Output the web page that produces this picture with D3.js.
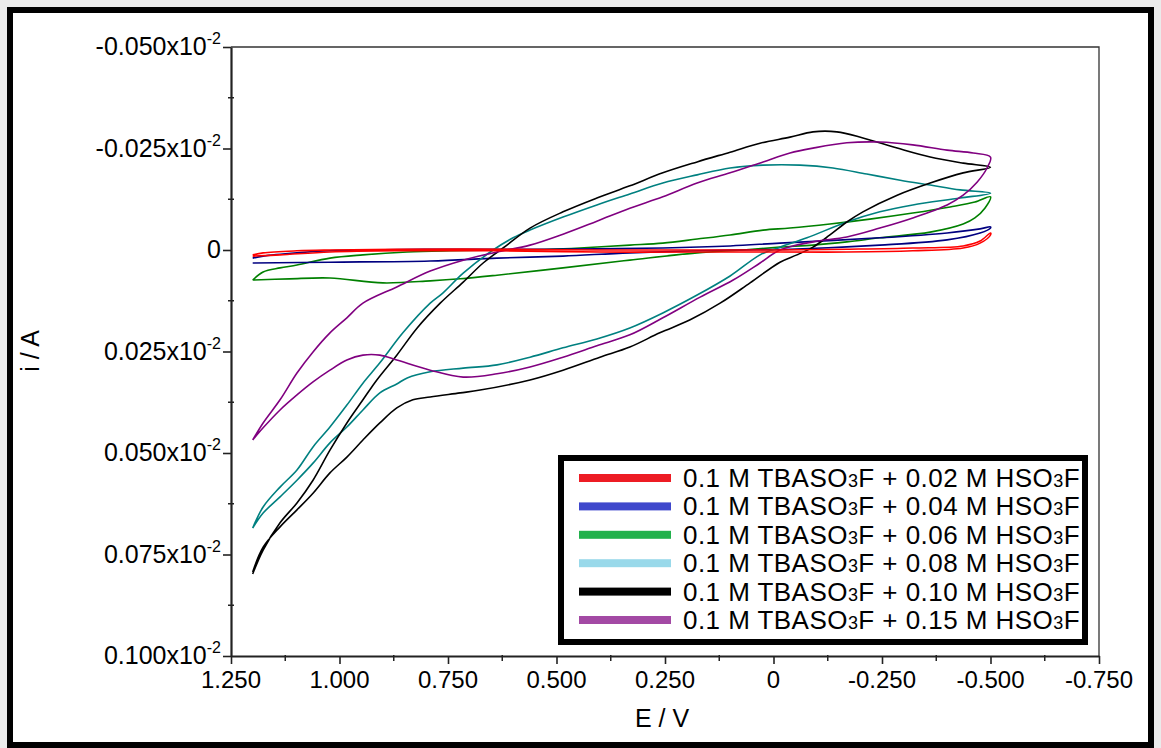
<!DOCTYPE html>
<html>
<head>
<meta charset="utf-8">
<script src="https://cdnjs.cloudflare.com/ajax/libs/d3/7.8.5/d3.min.js"></script>
<style>
  body { margin: 0; background: #ebebeb; }
  svg { display: block; font-family: "Liberation Sans", Arial, sans-serif; }
</style>
</head>
<body>
<script>
// tick values and labels (current axis is in units of 10^-2 A)
var xTicks = [1.25, 1.0, 0.75, 0.5, 0.25, 0, -0.25, -0.5, -0.75];
var xTickLabels = ["1.250", "1.000", "0.750", "0.500", "0.250", "0", "-0.250", "-0.500", "-0.750"];
var yTicks = [-0.05, -0.025, 0, 0.025, 0.05, 0.075, 0.1];
var yTickLabels = ["-0.050", "-0.025", "0", "0.025", "0.050", "0.075", "0.100"];

var seriesNames = [
  "0.1 M TBASO3F + 0.02 M HSO3F",
  "0.1 M TBASO3F + 0.04 M HSO3F",
  "0.1 M TBASO3F + 0.06 M HSO3F",
  "0.1 M TBASO3F + 0.08 M HSO3F",
  "0.1 M TBASO3F + 0.10 M HSO3F",
  "0.1 M TBASO3F + 0.15 M HSO3F"
];
var lineColors = ["#ff0000", "#000080", "#008000", "#008080", "#000000", "#800080"];
var swatchColors = ["#ed1c24", "#3f48cc", "#22b14c", "#99d9ea", "#000000", "#a349a4"];

// [E (V), i (x10^-2 A)] – each loop
var cv002 = [[1.200,0.0012],[1.176,0.0007],[1.098,0.0002],[1.022,0.0000],[0.868,-0.0002],[0.630,-0.0002],[0.400,0.0000],[0.169,0.0000],[-0.015,0.0000],[-0.169,-0.0002],[-0.321,-0.0005],[-0.437,-0.0010],[-0.476,-0.0022],[-0.500,-0.0042],
  [-0.500,-0.0037],[-0.476,-0.0017],[-0.437,-0.0005],[-0.321,0.0002],[-0.169,0.0005],[-0.015,0.0005],[0.169,0.0005],[0.400,0.0005],[0.630,0.0002],[0.868,0.0002],[1.022,0.0005],[1.137,0.0012],[1.200,0.0015]];

var cv004 = [[1.200,0.0020],[1.176,0.0015],[1.098,0.0007],[1.022,0.0002],[0.946,0.0000],[0.745,-0.0002],[0.515,-0.0002],[0.255,-0.0005],[0.100,-0.0010],[-0.015,-0.0017],[-0.245,-0.0030],[-0.400,-0.0042],[-0.476,-0.0052],[-0.500,-0.0057],
  [-0.500,-0.0054],[-0.476,-0.0042],[-0.400,-0.0025],[-0.245,-0.0012],[-0.038,-0.0002],[0.100,0.0000],[0.331,0.0007],[0.485,0.0015],[0.637,0.0020],[0.791,0.0027],[1.022,0.0030],[1.200,0.0032]];

var cv006 = [[1.200,0.0074],[1.176,0.0054],[1.137,0.0044],[1.098,0.0037],[1.022,0.0020],[0.946,0.0012],[0.844,0.0005],[0.745,0.0002],[0.630,0.0000],[0.515,-0.0002],[0.446,-0.0005],[0.331,-0.0012],[0.255,-0.0017],[0.176,-0.0027],[0.100,-0.0037],[0.024,-0.0049],[-0.038,-0.0054],[-0.130,-0.0064],[-0.222,-0.0076],[-0.321,-0.0091],[-0.407,-0.0106],[-0.464,-0.0118],[-0.500,-0.0131],
  [-0.487,-0.0103],[-0.464,-0.0079],[-0.437,-0.0064],[-0.361,-0.0044],[-0.245,-0.0030],[-0.169,-0.0020],[-0.091,-0.0012],[-0.015,-0.0007],[0.070,0.0000],[0.176,0.0007],[0.331,0.0025],[0.485,0.0044],[0.637,0.0062],[0.722,0.0071],[0.791,0.0076],[0.900,0.0081],[1.022,0.0069],[1.115,0.0071],[1.200,0.0074]];

var cv008 = [[1.200,0.0685],[1.176,0.0633],[1.137,0.0584],[1.098,0.0542],[1.061,0.0485],[1.022,0.0436],[0.983,0.0382],[0.946,0.0328],[0.907,0.0278],[0.854,0.0204],[0.791,0.0131],[0.762,0.0106],[0.715,0.0057],[0.646,0.0000],[0.600,-0.0030],[0.561,-0.0049],[0.485,-0.0081],[0.407,-0.0111],[0.331,-0.0138],[0.255,-0.0165],[0.176,-0.0185],[0.100,-0.0202],[0.024,-0.0209],[-0.061,-0.0209],[-0.137,-0.0202],[-0.215,-0.0187],[-0.292,-0.0172],[-0.361,-0.0160],[-0.430,-0.0148],[-0.500,-0.0140],
  [-0.430,-0.0128],[-0.321,-0.0111],[-0.245,-0.0094],[-0.169,-0.0069],[-0.077,-0.0030],[-0.015,-0.0007],[0.031,0.0012],[0.100,0.0064],[0.176,0.0111],[0.255,0.0155],[0.331,0.0192],[0.407,0.0219],[0.485,0.0241],[0.561,0.0264],[0.637,0.0283],[0.715,0.0291],[0.791,0.0300],[0.844,0.0315],[0.868,0.0330],[0.907,0.0352],[0.946,0.0394],[0.983,0.0436],[1.022,0.0475],[1.061,0.0525],[1.098,0.0567],[1.137,0.0608],[1.176,0.0648],[1.200,0.0685]];

var cv010 = [[1.200,0.0798],[1.176,0.0739],[1.137,0.0672],[1.098,0.0623],[1.061,0.0567],[1.022,0.0493],[0.983,0.0426],[0.946,0.0369],[0.914,0.0320],[0.868,0.0259],[0.821,0.0192],[0.768,0.0131],[0.715,0.0079],[0.669,0.0032],[0.623,-0.0005],[0.561,-0.0054],[0.485,-0.0094],[0.407,-0.0128],[0.331,-0.0158],[0.255,-0.0190],[0.176,-0.0217],[0.100,-0.0241],[0.031,-0.0263],[-0.038,-0.0278],[-0.091,-0.0291],[-0.146,-0.0291],[-0.206,-0.0276],[-0.285,-0.0251],[-0.361,-0.0229],[-0.437,-0.0214],[-0.500,-0.0204],
  [-0.437,-0.0190],[-0.361,-0.0165],[-0.285,-0.0135],[-0.206,-0.0094],[-0.169,-0.0069],[-0.130,-0.0037],[-0.091,-0.0007],[-0.054,0.0012],[-0.015,0.0030],[0.054,0.0081],[0.123,0.0131],[0.192,0.0172],[0.262,0.0204],[0.331,0.0239],[0.400,0.0264],[0.485,0.0296],[0.561,0.0320],[0.676,0.0345],[0.722,0.0352],[0.791,0.0362],[0.831,0.0369],[0.868,0.0389],[0.907,0.0426],[0.946,0.0468],[0.983,0.0510],[1.022,0.0549],[1.061,0.0599],[1.098,0.0640],[1.137,0.0682],[1.176,0.0732],[1.200,0.0793]];

var cv015 = [[1.200,0.0468],[1.176,0.0426],[1.137,0.0369],[1.098,0.0303],[1.061,0.0251],[1.022,0.0204],[0.983,0.0167],[0.946,0.0131],[0.868,0.0091],[0.791,0.0052],[0.715,0.0025],[0.637,0.0005],[0.561,-0.0012],[0.485,-0.0039],[0.407,-0.0071],[0.331,-0.0103],[0.255,-0.0131],[0.176,-0.0165],[0.100,-0.0190],[0.024,-0.0217],[-0.038,-0.0239],[-0.091,-0.0251],[-0.169,-0.0264],[-0.245,-0.0266],[-0.321,-0.0259],[-0.400,-0.0246],[-0.460,-0.0239],[-0.500,-0.0229],
  [-0.492,-0.0202],[-0.469,-0.0167],[-0.437,-0.0135],[-0.400,-0.0111],[-0.321,-0.0079],[-0.245,-0.0054],[-0.169,-0.0032],[-0.091,-0.0020],[-0.015,0.0000],[0.031,0.0032],[0.093,0.0074],[0.169,0.0116],[0.255,0.0167],[0.331,0.0209],[0.407,0.0236],[0.485,0.0264],[0.561,0.0288],[0.637,0.0305],[0.715,0.0313],[0.791,0.0296],[0.868,0.0271],[0.907,0.0259],[0.946,0.0259],[0.983,0.0271],[1.022,0.0296],[1.061,0.0325],[1.098,0.0357],[1.137,0.0394],[1.176,0.0438],[1.200,0.0468]];

var allSeries = [cv002, cv004, cv006, cv008, cv010, cv015];
var drawOrder = [2, 1, 3, 4, 5, 0];

var W = 1161, H = 748;
var svg = d3.select("body").append("svg").attr("width", W).attr("height", H);

// outer frame
svg.append("rect").attr("x", 10).attr("y", 10).attr("width", 1141).attr("height", 735)
  .attr("fill", "#fff").attr("stroke", "#000").attr("stroke-width", 6);

var x = d3.scaleLinear().domain([1.25, -0.75]).range([231, 1099]);
var y = d3.scaleLinear().domain([-0.05, 0.1]).range([47, 656]);

// top / right box lines
svg.append("path")
  .attr("d", "M" + x(1.25) + "," + y(-0.05) + "H" + x(-0.75) + "V" + y(0.1))
  .attr("fill", "none").attr("stroke", "#333").attr("stroke-width", 1.3);

// minor ticks
var xMinor = d3.range(8).map(function(k) { return 1.125 - k * 0.25; });
var yMinor = d3.range(6).map(function(k) { return -0.0375 + k * 0.025; });

svg.append("g").selectAll("line").data(xMinor).enter().append("line")
  .attr("x1", function(d) { return x(d); }).attr("x2", function(d) { return x(d); })
  .attr("y1", y(0.1) - 1).attr("y2", y(0.1) + 5)
  .attr("stroke", "#222").attr("stroke-width", 1.5);
svg.append("g").selectAll("line").data(yMinor).enter().append("line")
  .attr("y1", function(d) { return y(d); }).attr("y2", function(d) { return y(d); })
  .attr("x1", x(1.25) - 3).attr("x2", x(1.25) + 3)
  .attr("stroke", "#222").attr("stroke-width", 1.5);

// axes
var xAxis = svg.append("g").attr("transform", "translate(0," + y(0.1) + ")")
  .call(d3.axisBottom(x).tickValues(xTicks).tickSize(8).tickSizeOuter(0).tickFormat(""));
var yAxis = svg.append("g").attr("transform", "translate(" + x(1.25) + ",0)")
  .call(d3.axisLeft(y).tickValues(yTicks).tickSize(8).tickSizeOuter(0).tickFormat(""));
[xAxis, yAxis].forEach(function(a) {
  a.select(".domain").attr("stroke", "#222").attr("stroke-width", 2.2);
  a.selectAll(".tick line").attr("stroke", "#222").attr("stroke-width", 1.6);
});

svg.append("g").selectAll("text").data(xTicks).enter().append("text")
  .attr("x", function(d) { return x(d); }).attr("y", 688)
  .attr("text-anchor", "middle").attr("font-size", 24)
  .text(function(d, i) { return xTickLabels[i]; });

var yl = svg.append("g").selectAll("text").data(yTicks).enter().append("text")
  .attr("x", 221).attr("y", function(d) { return y(d) + 8; })
  .attr("text-anchor", "end").attr("font-size", 25);
yl.append("tspan").text(function(d, i) { return yTickLabels[i] + (d === 0 ? "" : "x10"); });
yl.filter(function(d) { return d !== 0; }).append("tspan")
  .attr("font-size", 16).attr("dy", -11).text("-2");

// axis titles
svg.append("text").attr("x", 662).attr("y", 727).attr("text-anchor", "middle")
  .attr("font-size", 25).text("E / V");
svg.append("text").attr("transform", "translate(39,351) rotate(-90)").attr("text-anchor", "middle")
  .attr("font-size", 25).text("i / A");

// curves
var line = d3.line().curve(d3.curveCatmullRom.alpha(0.5))
  .x(function(d) { return x(d[0]); }).y(function(d) { return y(d[1]); });
svg.append("g").selectAll("path").data(drawOrder).enter().append("path")
  .attr("d", function(k) { return line(allSeries[k]); })
  .attr("fill", "none")
  .attr("stroke", function(k) { return lineColors[k]; })
  .attr("stroke-width", 1.6)
  .attr("stroke-linejoin", "round");

// legend
var lg = svg.append("g");
lg.append("rect").attr("x", 561).attr("y", 458).attr("width", 524).attr("height", 184)
  .attr("fill", "#fff").attr("stroke", "#000").attr("stroke-width", 6);
var rows = lg.selectAll("g.row").data(seriesNames).enter().append("g")
  .attr("transform", function(d, i) { return "translate(0," + (478 + i * 28.4) + ")"; });
rows.append("rect").attr("x", 579).attr("y", -4).attr("width", 92).attr("height", 8)
  .attr("fill", function(d, i) { return swatchColors[i]; });
var rt = rows.append("text").attr("x", 683).attr("y", 9).attr("font-size", 26)
  .attr("letter-spacing", 0.45);
rt.each(function(d) {
  var t = d3.select(this);
  d.split("3").forEach(function(part, j) {
    if (j > 0) t.append("tspan").attr("font-size", 18).text("3");
    t.append("tspan").text(part);
  });
});
</script>
</body>
</html>
